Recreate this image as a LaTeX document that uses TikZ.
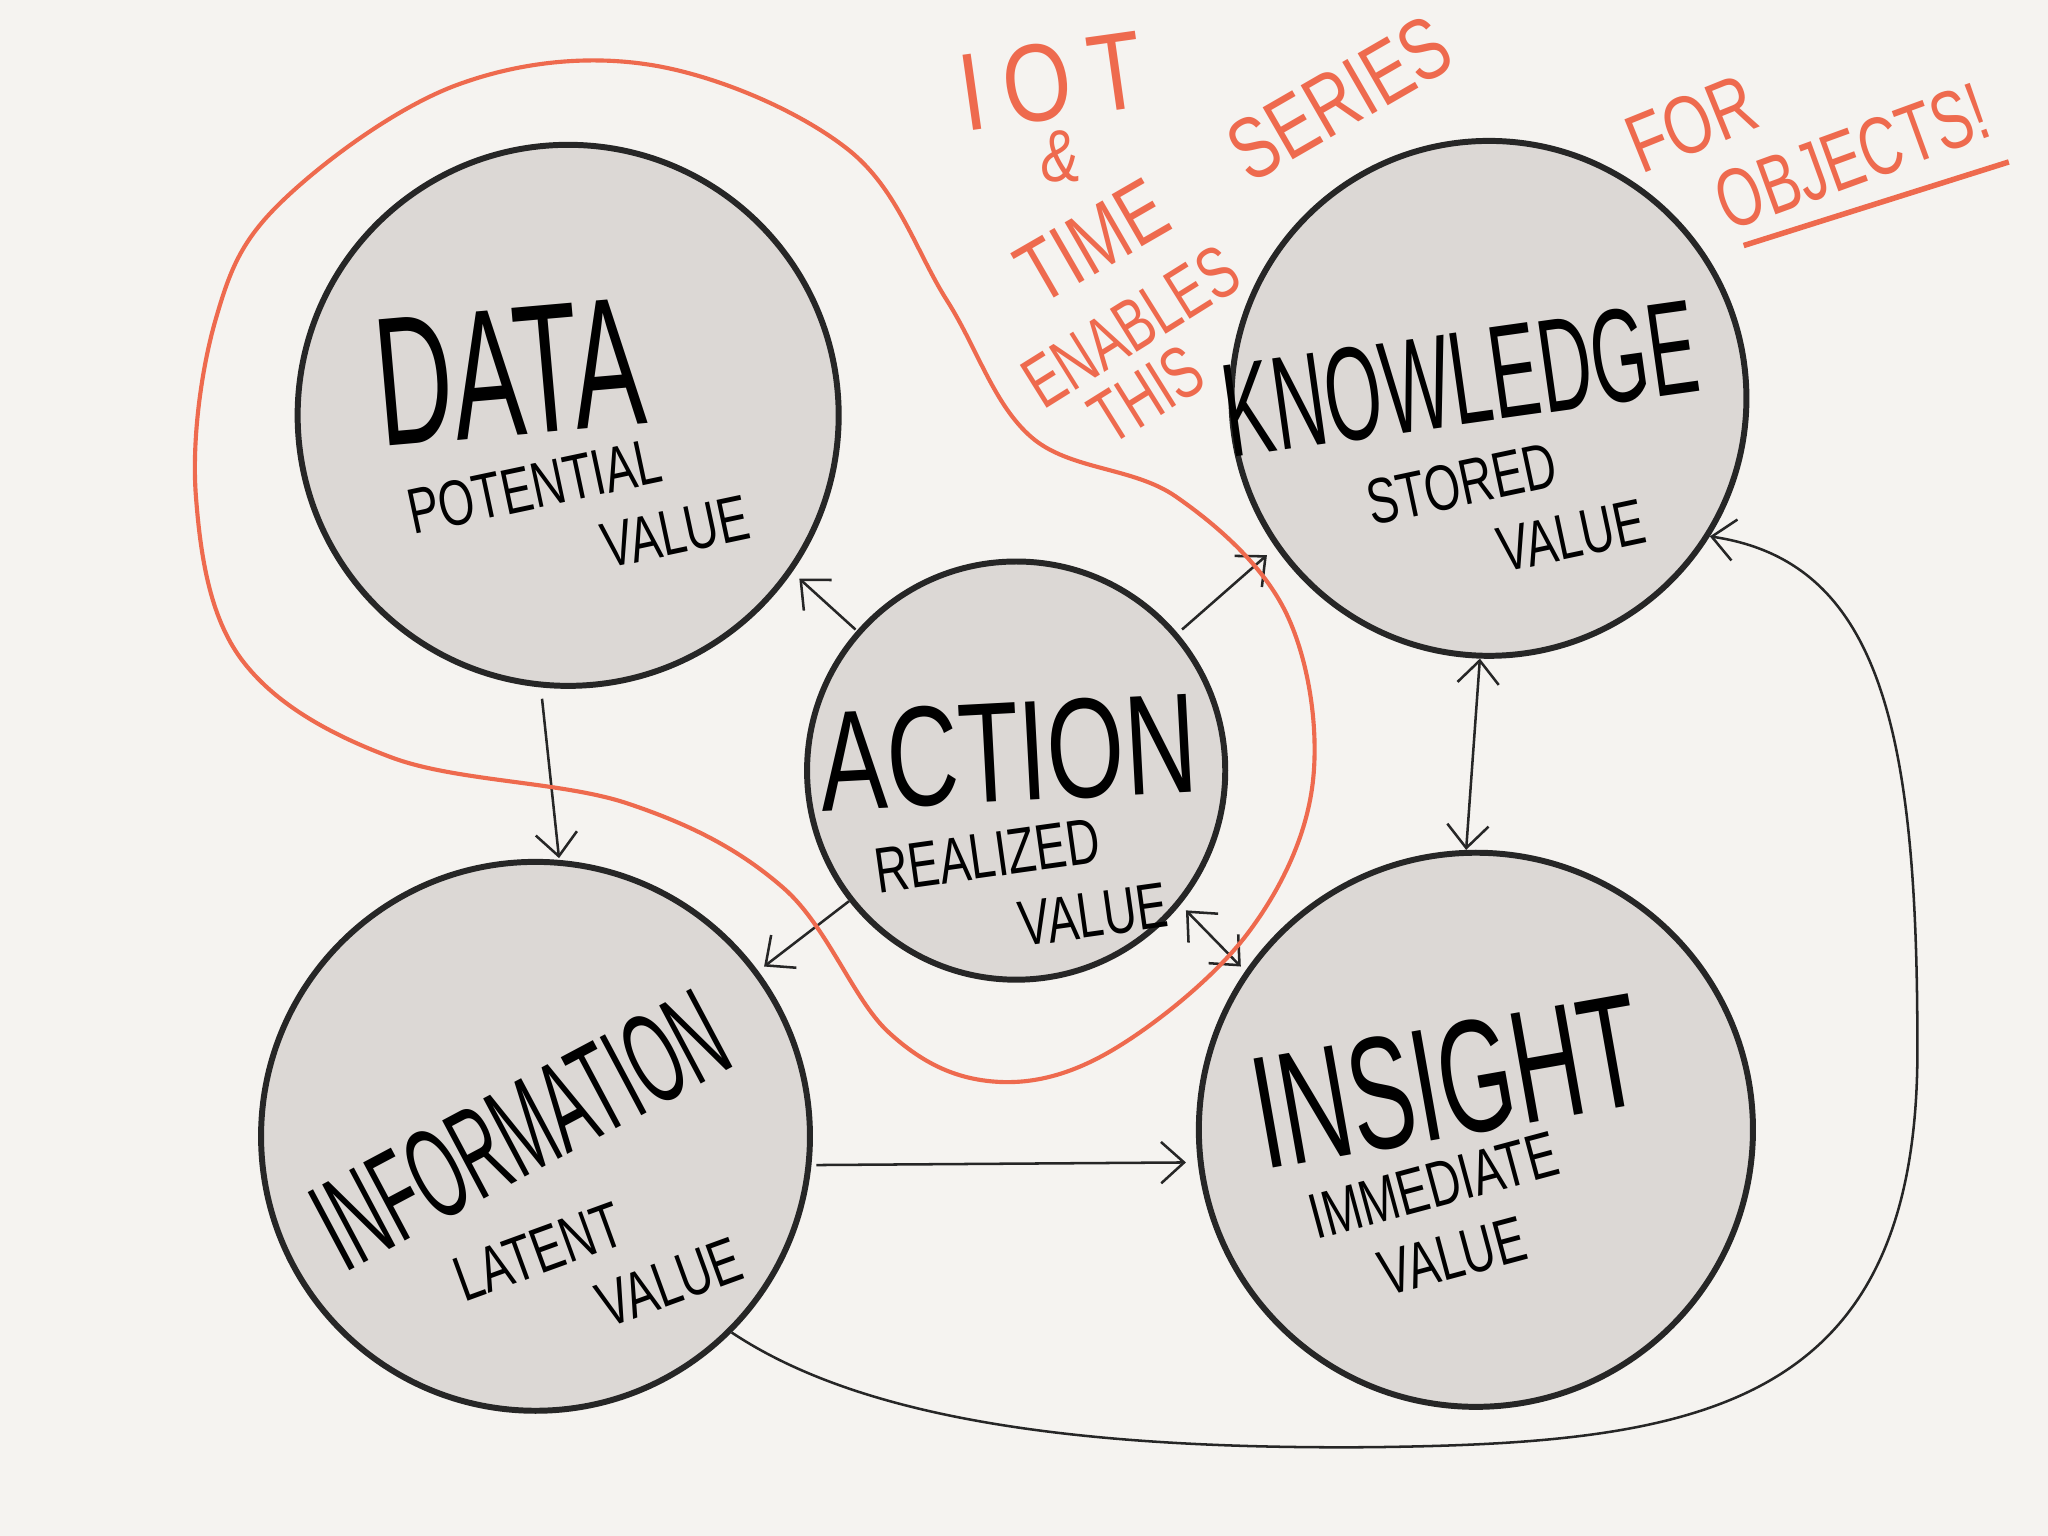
\documentclass[tikz,border=0pt]{standalone}
\usepackage{fontspec}
\setmainfont{Liberation Sans}
\usetikzlibrary{arrows.meta}
\definecolor{bg}{HTML}{F5F3F0}
\definecolor{cfill}{HTML}{DCD8D5}
\definecolor{org}{HTML}{EE6A4E}
\newcommand{\fs}[3]{\fontsize{#1}{#2}\selectfont\addfontfeatures{FakeStretch=#3}}
\begin{document}
\begin{tikzpicture}[x=0.01cm,y=-0.01cm,
  bub/.style={circle,draw=black!85,line width=1.3pt,fill=cfill,inner sep=0pt},
  arr/.style={-{Straight Barb[length=5pt,width=9pt]},line width=0.55pt,black!85},
  darr/.style={{Straight Barb[length=5pt,width=9pt]}-{Straight Barb[length=5pt,width=9pt]},line width=0.55pt,black!85},
  sml/.style={font=\fs{14}{16}{0.72},align=center},
  otx/.style={text=org}]
\fill[bg] (0,0) rectangle (1568,1176);
\useasboundingbox (0,0) rectangle (1568,1176);
\node[bub,minimum size=4.14cm] (data) at (435,318) {};
\node[bub,minimum size=3.94cm] (know) at (1140,305) {};
\node[bub,minimum size=3.2cm] (act) at (778,590) {};
\node[bub,minimum size=4.2cm] (info) at (410,870) {};
\node[bub,minimum size=4.24cm] (ins) at (1130,865) {};
% texts
\node[font=\fs{40}{40}{0.58},rotate=5] (tdata) at (390,285) {DATA};
\node[sml,rotate=12] (tdv) at (415,400) {POTENTIAL\\\hspace*{4em}VALUE};
\node[font=\fs{29}{29}{0.55},rotate=8] (tknow) at (1118,290) {KNOWLEDGE};
\node[sml,rotate=12] (tkv) at (1125,398) {STORED\\\hspace*{3em}VALUE};
\node[font=\fs{31}{31}{0.7},rotate=3] (tact) at (772,576) {ACTION};
\node[sml,rotate=8] (tav) at (760,683) {REALIZED\\\hspace*{3em}VALUE};
\node[font=\fs{28}{28}{0.5},rotate=28] (tinfo) at (398,865) {INFORMATION};
\node[sml,rotate=20] (tiv) at (422,985) {LATENT\\\hspace*{3.5em}VALUE};
\node[font=\fs{35}{35}{0.6},rotate=10] (tins) at (1108,828) {INSIGHT};
\node[sml,rotate=15] (tsv) at (1105,935) {IMMEDIATE\\VALUE};
% arrows
\coordinate (d1) at (415,535); \coordinate (d2) at (428,657);
\draw[arr] (d1) -- (d2);
\coordinate (a1) at (655,482); \coordinate (b1) at (612,443);
\coordinate (a2) at (905,482); \coordinate (b2) at (970,425);
\coordinate (a3) at (650,690); \coordinate (b3) at (585,740);
\coordinate (a4) at (908,697); \coordinate (b4) at (950,740);
\draw[arr] (a1) -- (b1);
\draw[arr] (a2) -- (b2);
\draw[arr] (a3) -- (b3);
\draw[darr] (a4) -- (b4);
\draw[darr] (know.-92) -- (ins.92);
\coordinate (i1) at (625,892); \coordinate (i2) at (908,890);
\draw[arr] (i1) -- (i2);
\draw[arr] (info.-45) .. controls (650,1080) and (800,1110) .. (1050,1108)
  .. controls (1300,1105) and (1470,1080) .. (1468,800)
  .. controls (1468,560) and (1440,430) .. (know.-32);
% orange loop
\draw[org,line width=0.9pt] plot[smooth cycle,tension=0.6] coordinates {
 (215,155) (350,65) (500,50) (650,115) (725,230) (790,335) (900,380)
 (985,470) (1005,600) (955,715) (850,805) (760,828) (680,790) (600,680)
 (480,615) (300,580) (185,505) (150,380) (165,245)};
% orange texts
\node[otx,font=\fs{24}{24}{0.8},rotate=8] (o1) at (805,62) {I\,O\,T};
\node[otx,font=\fs{16}{16}{0.8}] (o2) at (812,120) {\&};
\node[otx,font=\fs{19}{19}{0.75},rotate=30] (o3) at (945,122) {TIME\quad SERIES};
\node[otx,font=\fs{16}{16}{0.7},rotate=32] (o4) at (866,250) {ENABLES};
\node[otx,font=\fs{16}{16}{0.7},rotate=32] (o5) at (878,302) {THIS};
\node[otx,font=\fs{18}{18}{0.75},rotate=22] (o6) at (1295,95) {FOR};
\node[otx,font=\fs{18}{18}{0.7},rotate=20] (o7) at (1418,120) {OBJECTS!};
\coordinate (u1) at (1335,188); \coordinate (u2) at (1538,124);
\draw[org,line width=1.2pt] (u1) -- (u2);
\end{tikzpicture}
\end{document}
